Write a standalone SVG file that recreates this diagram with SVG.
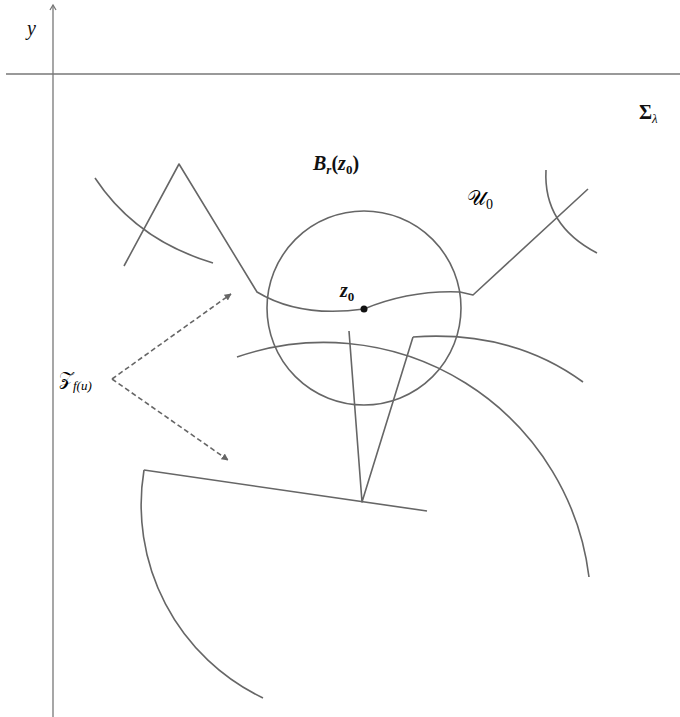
<svg xmlns="http://www.w3.org/2000/svg" width="680" height="717" viewBox="0 0 680 717">
<style>
.ax{stroke:#777;stroke-width:1.3;fill:none}
.c{stroke:#666;stroke-width:1.6;fill:none;stroke-linejoin:round}
.d{stroke:#666;stroke-width:1.6;fill:none;stroke-dasharray:5 3}
.t{font-family:"Liberation Serif","DejaVu Serif",serif;font-style:italic;font-size:20px;fill:#111}
.s{font-size:13px}
.u{font-style:normal}
</style>
<defs>
<marker id="ah" viewBox="0 0 10 10" refX="9" refY="5" markerWidth="7" markerHeight="7" markerUnits="userSpaceOnUse" orient="auto">
<path d="M0,0 L10,5 L0,10 z" fill="#666"/>
</marker>
</defs>
<rect width="680" height="717" fill="#fff"/>
<g id="axes">
<line class="ax" x1="53" y1="5" x2="53" y2="717"/>
<path class="ax" d="M50,10 L53,5 L56,10"/>
<line class="ax" x1="6" y1="74" x2="680" y2="74"/>
</g>
<g id="circle">
<circle class="c" cx="364" cy="308" r="97"/>
</g>
<g id="curves">
<path class="c" d="M124,266 L179,164 L257,292 Q300,318 364,309 Q410,290 460,292 L473,295 L588,189"/>
<path class="c" d="M95,178 Q136,240 213,263"/>
<path class="c" d="M546,170 Q543,225 597,253"/>
<path class="c" d="M237,357 A267,267 0 0 1 589,577"/>
<path class="c" d="M413,337 Q512,330 583,382"/>
<path class="c" d="M349,331 L362,502 L413,337"/>
<path class="c" d="M144,470 L427,511"/>
<path class="c" d="M144,470 A214,214 0 0 0 263,698"/>
</g>
<g id="point">
<circle cx="364" cy="309" r="3.5" fill="#111"/>
</g>
<g id="connectors">
<line class="d" x1="112" y1="379" x2="231" y2="294" marker-end="url(#ah)"/>
<line class="d" x1="112" y1="379" x2="228" y2="460" marker-end="url(#ah)"/>
</g>
<g id="labels">
<text class="t" x="27" y="35">y</text>
<text class="t u" x="639" y="119" style="font-weight:bold">Σ<tspan class="s" style="font-style:italic;font-weight:normal" dy="4">λ</tspan></text>
<text class="t" x="313" y="170" style="font-weight:bold">B<tspan class="s" dy="4">r</tspan><tspan class="u" dy="-4">(</tspan>z<tspan class="s u" dy="4">0</tspan><tspan class="u" dy="-4">)</tspan></text>
<text class="t" x="467" y="205" style="font-family:'DejaVu Serif','DejaVu Sans',serif;font-style:normal;font-size:21px;fill:#000">𝒰<tspan class="s" dy="4" style="font-family:'Liberation Serif',serif;font-size:14px">0</tspan></text>
<text class="t" x="340" y="297" style="font-weight:bold">z<tspan class="s u" dy="4">0</tspan></text>
<text class="t" x="59" y="385" style="font-family:'DejaVu Serif','DejaVu Sans',serif;font-style:normal;font-size:19px;fill:#000">𝒵<tspan class="s" dy="5" style="font-family:'Liberation Serif',serif;font-style:italic">f(u)</tspan></text>
</g>
</svg>
